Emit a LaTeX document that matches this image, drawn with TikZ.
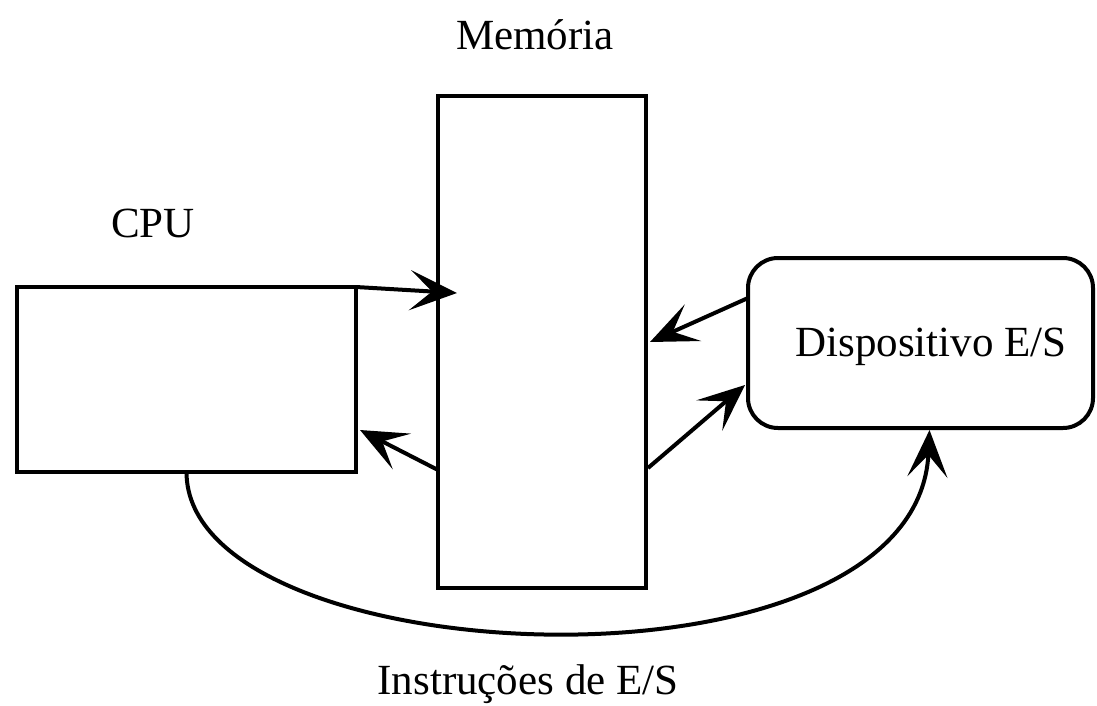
\documentclass[tikz,border=0pt]{standalone}
\usepackage{fontspec}
\setmainfont{Liberation Serif}
\usetikzlibrary{arrows.meta,calc}
\begin{document}
\begin{tikzpicture}[x=1pt,y=-1pt,
  line width=4pt,
  box/.style={draw,line width=4pt,inner sep=0pt,outer sep=0pt},
  lbl/.style={inner sep=0pt,font=\fontsize{43}{50}\selectfont},
  flow/.style={-{Stealth[length=47pt,width=40pt,inset=22pt]}},
]
\useasboundingbox (0,0) rectangle (1097,706);

% blocks
\node[box,minimum width=339pt,minimum height=185pt] (cpu) at (186.5,379.5) {};
\node[box,minimum width=208pt,minimum height=492pt] (mem) at (542,342) {};
\node[box,rounded corners=30pt,minimum width=345pt,minimum height=170pt] (dev) at (920.5,343) {};

% captions
\node[lbl] (devlbl) at (931,347) {Dispositivo E/S};
\node[lbl] (cpulbl) at (153,223) {CPU};
\node[lbl] (memlbl) at (535,35) {Memória};
\node[lbl] (ioins) at (528,684) {Instruções de E/S};

% data paths
\draw[flow] (cpu.north east) -- ($(mem.west)+(19,-49)$);
\draw[flow] ($(mem.west)+(0,128)$) -- ($(cpu.east)+(4,50.5)$);
\draw[flow] ($(dev.west)+(0,-45)$) -- ($(mem.east)+(4,0)$);
\draw[flow] ($(mem.east)+(2,126)$) -- ($(dev.west)+(-3,42)$);

% I/O instruction path under the memory
\draw[flow] (cpu.south) .. controls (186.5,676) and (917,708) .. ($(dev.south)+(9,2)$);
\end{tikzpicture}
\end{document}
